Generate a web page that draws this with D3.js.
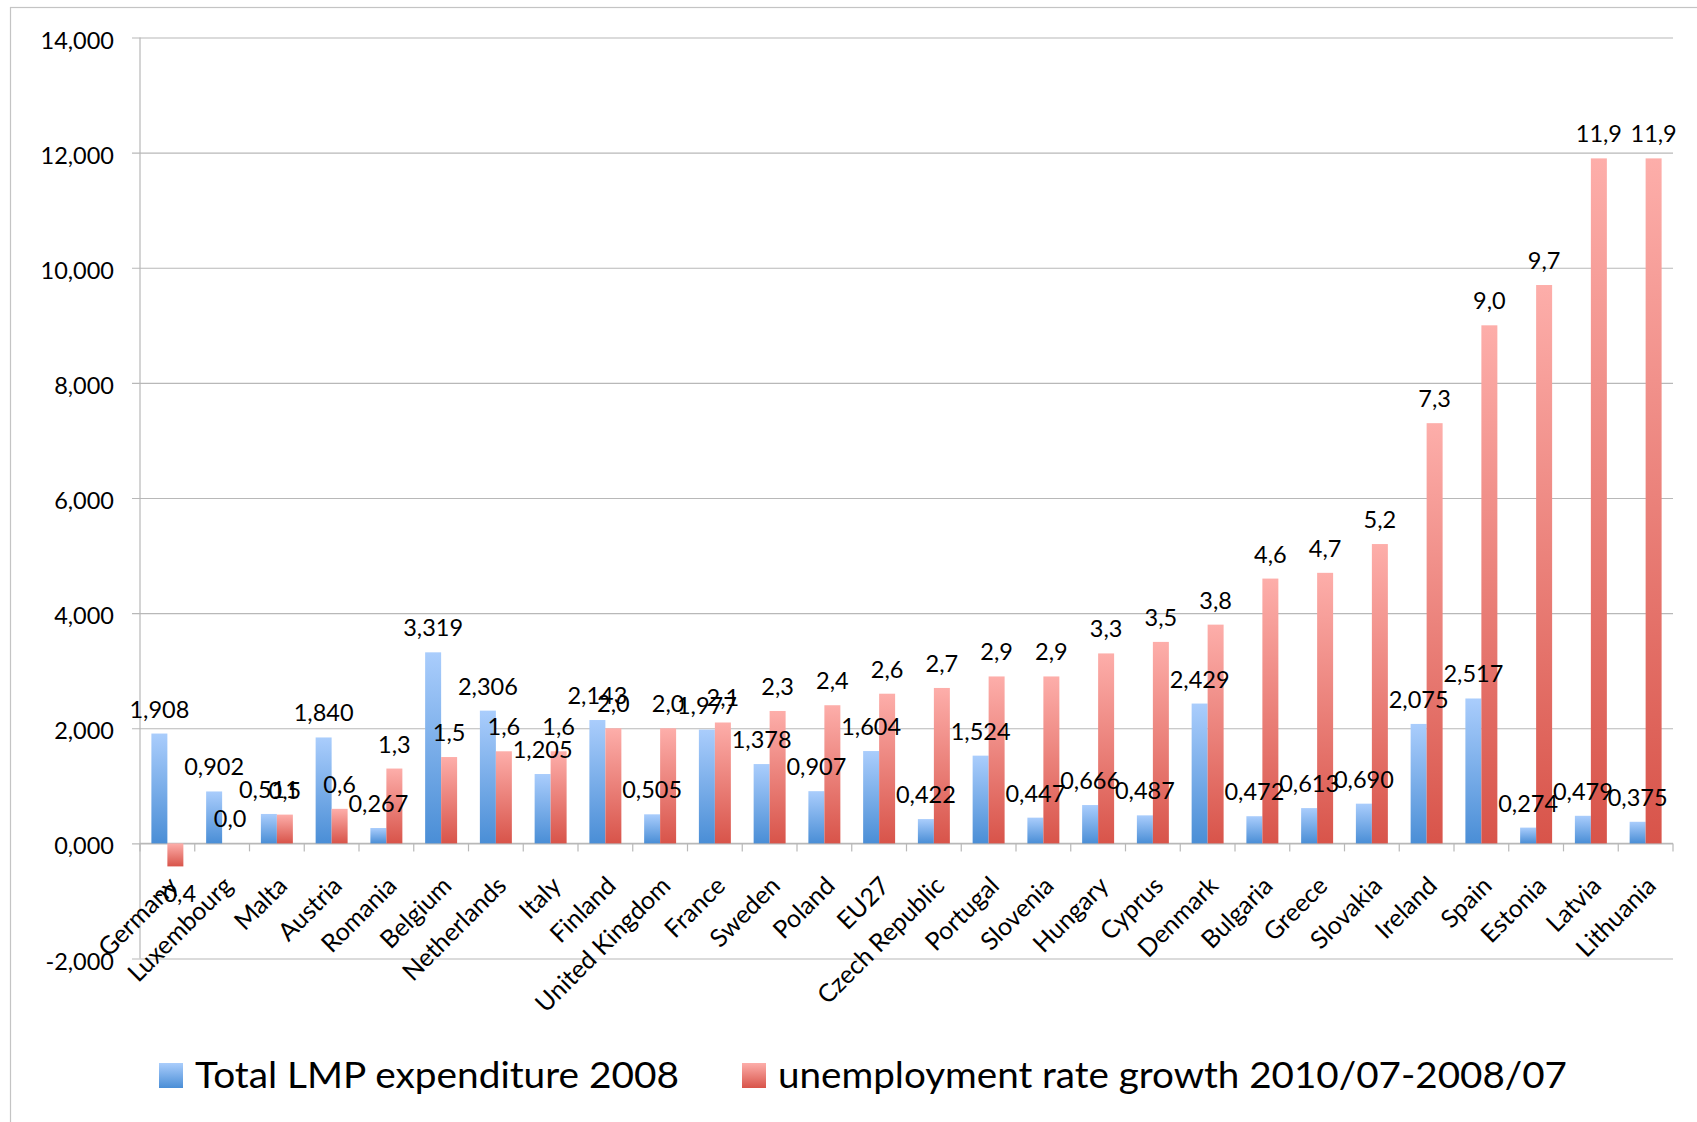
<!DOCTYPE html>
<html>
<head>
<meta charset="utf-8">
<script src="https://cdn.jsdelivr.net/npm/d3@7"></script>
<style>
    html, body { margin: 0; padding: 0; background: #fff; }
    svg { display: block; font-family: Lato, "Open Sans", sans-serif; }
</style>
</head>
<body>
<svg id="chart" width="1697" height="1122"></svg>
<script>
// chart values
const countries = ["Germany", "Luxembourg", "Malta", "Austria", "Romania", "Belgium", "Netherlands",
    "Italy", "Finland", "United Kingdom", "France", "Sweden", "Poland", "EU27", "Czech Republic",
    "Portugal", "Slovenia", "Hungary", "Cyprus", "Denmark", "Bulgaria", "Greece", "Slovakia",
    "Ireland", "Spain", "Estonia", "Latvia", "Lithuania"];

const lmpExpenditure = [1.908, 0.902, 0.511, 1.840, 0.267, 3.319, 2.306, 1.205, 2.143, 0.505, 1.977,
    1.378, 0.907, 1.604, 0.422, 1.524, 0.447, 0.666, 0.487, 2.429, 0.472, 0.613, 0.690, 2.075,
    2.517, 0.274, 0.479, 0.375];

const unemploymentGrowth = [-0.4, 0.0, 0.5, 0.6, 1.3, 1.5, 1.6, 1.6, 2.0, 2.0, 2.1, 2.3, 2.4, 2.6,
    2.7, 2.9, 2.9, 3.3, 3.5, 3.8, 4.6, 4.7, 5.2, 7.3, 9.0, 9.7, 11.9, 11.9];

const seriesNames = ["Total LMP expenditure 2008", "unemployment rate growth 2010/07-2008/07"];

const yTicks = [-2, 0, 2, 4, 6, 8, 10, 12, 14];

const svg = d3.select("#chart");

const plot = { left: 140, right: 1673, top: 37.5, bottom: 958.5 };

const gridColor = "#b8b8b8";

// comma as decimal separator and a plain hyphen for negatives, like the original
const locale = d3.formatLocale({ decimal: ",", thousands: ".", grouping: [3], currency: ["", " €"], minus: "-" });
const fmt3 = locale.format(".3f");
const fmt1 = locale.format(".1f");

const series = [
    { name: seriesNames[0], values: lmpExpenditure, format: fmt3, grad: "gradBlue" },
    { name: seriesNames[1], values: unemploymentGrowth, format: fmt1, grad: "gradRed" }
];

// gradients: light on top, darker at the bottom of each bar
const defs = svg.append("defs");
function addGradient(id, top, bottom) {
    const g = defs.append("linearGradient")
        .attr("id", id)
        .attr("x1", 0).attr("y1", 0)
        .attr("x2", 0).attr("y2", 1);
    g.append("stop").attr("offset", "0%").attr("stop-color", top);
    g.append("stop").attr("offset", "100%").attr("stop-color", bottom);
}
addGradient("gradBlue", "#aacdfc", "#4a8ed6");
addGradient("gradRed", "#fdaeaa", "#d8544a");

// outer frame
svg.append("rect")
    .attr("x", 10.5)
    .attr("y", 7.5)
    .attr("width", 1720)
    .attr("height", 1140)
    .attr("fill", "none")
    .attr("stroke", "#c4c4c4")
    .attr("stroke-width", 1.2);

const x0 = d3.scaleBand()
    .domain(countries)
    .range([plot.left, plot.right])
    .paddingInner(0.416)
    .paddingOuter(0.208);

const x1 = d3.scaleBand()
    .domain(d3.range(series.length))
    .range([0, x0.bandwidth()]);

const y = d3.scaleLinear()
    .domain([yTicks[0], yTicks[yTicks.length - 1]])
    .range([plot.bottom, plot.top]);

// horizontal gridlines + y labels
const yAxis = svg.append("g")
    .attr("class", "axis y-axis")
    .attr("transform", "translate(" + plot.left + ",0)")
    .call(d3.axisLeft(y)
        .tickValues(yTicks)
        .tickFormat(fmt3)
        .tickSize(-(plot.right - plot.left))
        .tickPadding(26));

yAxis.select(".domain").remove();
yAxis.selectAll(".tick line")
    .attr("x1", -8)
    .attr("stroke", gridColor)
    .attr("stroke-width", 1.2);
yAxis.selectAll(".tick text")
    .attr("font-family", "Lato, sans-serif")
    .attr("font-size", 23.5)
    .attr("dy", "0.45em")
    .attr("fill", "#000");

// vertical axis line
svg.append("line")
    .attr("x1", plot.left).attr("x2", plot.left)
    .attr("y1", plot.top).attr("y2", plot.bottom)
    .attr("stroke", gridColor)
    .attr("stroke-width", 1.2);

// category axis sits on zero
const xAxis = svg.append("g")
    .attr("class", "axis x-axis")
    .attr("transform", "translate(0," + y(0) + ")");

xAxis.append("line")
    .attr("x1", plot.left).attr("x2", plot.right)
    .attr("stroke", gridColor)
    .attr("stroke-width", 1.2);

xAxis.selectAll("line.cat-tick")
    .data(countries.concat(["end"]))
    .enter()
    .append("line")
    .attr("class", "cat-tick")
    .attr("x1", (d, i) => plot.left + i * x0.step())
    .attr("x2", (d, i) => plot.left + i * x0.step())
    .attr("y1", 0)
    .attr("y2", 8)
    .attr("stroke", gridColor)
    .attr("stroke-width", 1.2);

xAxis.selectAll("text.cat-label")
    .data(countries)
    .enter()
    .append("text")
    .attr("class", "cat-label")
    .attr("text-anchor", "end")
    .attr("font-size", 25)
    .attr("transform", d => "translate(" + (x0(d) + x0.bandwidth() / 2 + 12) + ",44) rotate(-45)")
    .text(d => d);

// one row per country and series
const barData = [];
series.forEach((s, si) => {
    countries.forEach((c, i) => {
        barData.push({ country: c, si: si, value: s.values[i], s: s });
    });
});

// bars first, labels on top of every bar
svg.append("g")
    .attr("class", "bars")
    .selectAll("rect")
    .data(barData)
    .enter()
    .append("rect")
    .attr("x", d => x0(d.country) + x1(d.si))
    .attr("width", x1.bandwidth())
    .attr("y", d => y(Math.max(0, d.value)))
    .attr("height", d => Math.abs(y(d.value) - y(0)))
    .attr("fill", d => "url(#" + d.s.grad + ")");

svg.append("g")
    .attr("class", "bar-labels")
    .selectAll("text")
    .data(barData)
    .enter()
    .append("text")
    .attr("text-anchor", "middle")
    .attr("font-size", 23.5)
    .attr("fill", "#000")
    .attr("x", d => x0(d.country) + x1(d.si) + x1.bandwidth() / 2)
    .attr("y", d => d.value < 0 ? y(d.value) + 36 : y(d.value) - 16)
    .text(d => d.s.format(d.value));

// legend
const legend = svg.append("g")
    .attr("class", "legend-box")
    .attr("font-size", 36);

const legendX = [159, 742];
const legendTextWidth = [484, 789];
const legendItems = legend.selectAll("g.legend")
    .data(series)
    .enter()
    .append("g")
    .attr("class", "legend")
    .attr("transform", (d, i) => "translate(" + legendX[i] + ",1063)");

legendItems.append("rect")
    .attr("width", 24)
    .attr("height", 25)
    .attr("fill", d => "url(#" + d.grad + ")");

legendItems.append("text")
    .attr("x", 36)
    .attr("y", 25)
    .attr("textLength", (d, i) => legendTextWidth[i])
    .attr("lengthAdjust", "spacingAndGlyphs")
    .text(d => d.name);
</script>
</body>
</html>
